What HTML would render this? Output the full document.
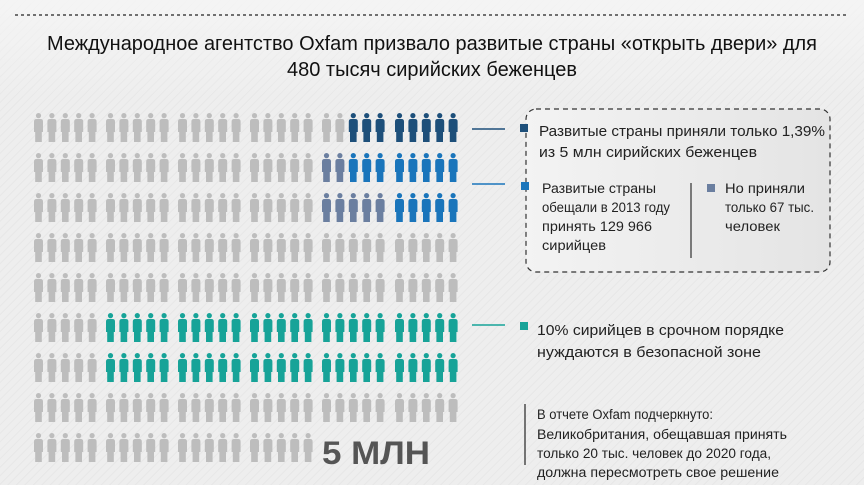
<!DOCTYPE html>
<html><head><meta charset="utf-8"><style>
html,body{margin:0;padding:0;width:864px;height:485px;overflow:hidden;background:#eeeeee}
svg{display:block}
text{font-family:"Liberation Sans",sans-serif}
</style></head><body>
<svg width="864" height="485" viewBox="0 0 864 485" xmlns="http://www.w3.org/2000/svg">
<defs>
<pattern id="st" width="6" height="6" patternUnits="userSpaceOnUse" patternTransform="rotate(45)">
<rect width="6" height="6" fill="#eeeeee"/><rect width="1" height="6" fill="#e7e7e7"/></pattern>
<linearGradient id="bx" x1="0" y1="0" x2="1" y2="0"><stop offset="0" stop-color="#f3f3f3"/><stop offset="1" stop-color="#e4e4e4"/></linearGradient>
<linearGradient id="tp" x1="0" y1="0" x2="0" y2="1"><stop offset="0" stop-color="#f6f6f6" stop-opacity="0.8"/><stop offset="1" stop-color="#f6f6f6" stop-opacity="0"/></linearGradient>
<g id="p"><circle cx="4.5" cy="2.6" r="2.6"/><path d="M0 8.5 Q0 6 2.5 6 H6.5 Q9 6 9 8.5 V19 H7.8 V29 H1.2 V19 H0 Z"/></g>
</defs>
<rect width="864" height="485" fill="url(#st)"/>
<rect x="0" y="0" width="864" height="100" fill="url(#tp)"/>
<line x1="15" y1="15" x2="846" y2="15" stroke="#444" stroke-width="1.5" stroke-dasharray="3,3"/>
<text x="432" y="50" text-anchor="middle" font-size="20" fill="#111" textLength="770" lengthAdjust="spacingAndGlyphs">Международное агентство Oxfam призвало развитые страны «открыть двери» для</text>
<text x="432" y="76" text-anchor="middle" font-size="20" fill="#111" textLength="290" lengthAdjust="spacingAndGlyphs">480 тысяч сирийских беженцев</text>
<g id="grid"></g>
<rect x="526" y="109" width="304" height="163" rx="10" fill="url(#bx)" stroke="#333" stroke-width="1.2" stroke-dasharray="5,4"/>
<line x1="472" y1="129" x2="505" y2="129" stroke="#1d4f7a" stroke-width="1.5"/>
<rect x="520" y="124" width="8" height="8" fill="#1d4f7a"/>
<text x="539" y="136" font-size="15" fill="#222" textLength="286" lengthAdjust="spacingAndGlyphs">Развитые страны приняли только 1,39%</text>
<text x="539" y="157" font-size="15" fill="#222" textLength="218" lengthAdjust="spacingAndGlyphs">из 5 млн сирийских беженцев</text>
<line x1="472" y1="184" x2="505" y2="184" stroke="#1a75bb" stroke-width="1.5"/>
<rect x="521" y="182" width="8" height="8" fill="#1a75bb"/>
<text x="542" y="193" font-size="13.5" fill="#222" textLength="114" lengthAdjust="spacingAndGlyphs">Развитые страны</text>
<text x="542" y="212" font-size="13.5" fill="#222" textLength="128" lengthAdjust="spacingAndGlyphs">обещали в 2013 году</text>
<text x="542" y="231" font-size="13.5" fill="#222" textLength="110" lengthAdjust="spacingAndGlyphs">принять 129  966</text>
<text x="542" y="250" font-size="13.5" fill="#222" textLength="64" lengthAdjust="spacingAndGlyphs">сирийцев</text>
<line x1="691" y1="183" x2="691" y2="258" stroke="#555" stroke-width="1.5"/>
<rect x="707" y="184" width="8" height="8" fill="#6b7fa0"/>
<text x="725" y="193" font-size="13.5" fill="#222" textLength="80" lengthAdjust="spacingAndGlyphs">Но приняли</text>
<text x="725" y="212" font-size="13.5" fill="#222" textLength="89" lengthAdjust="spacingAndGlyphs">только 67 тыс.</text>
<text x="725" y="231" font-size="13.5" fill="#222" textLength="55" lengthAdjust="spacingAndGlyphs">человек</text>
<line x1="472" y1="325" x2="505" y2="325" stroke="#17a398" stroke-width="1.5"/>
<rect x="520" y="322" width="8" height="8" fill="#17a398"/>
<text x="537" y="335" font-size="15" fill="#222" textLength="247" lengthAdjust="spacingAndGlyphs">10% сирийцев в срочном порядке</text>
<text x="537" y="357" font-size="15" fill="#222" textLength="224" lengthAdjust="spacingAndGlyphs">нуждаются в безопасной зоне</text>
<line x1="525" y1="404" x2="525" y2="465" stroke="#333" stroke-width="1.3"/>
<text x="537" y="419" font-size="13.5" fill="#222" textLength="176" lengthAdjust="spacingAndGlyphs">В отчете Oxfam подчеркнуто:</text>
<text x="537" y="439" font-size="13.5" fill="#222" textLength="250" lengthAdjust="spacingAndGlyphs">Великобритания, обещавшая принять</text>
<text x="537" y="458" font-size="13.5" fill="#222" textLength="234" lengthAdjust="spacingAndGlyphs">только 20 тыс. человек до 2020 года,</text>
<text x="537" y="477" font-size="13.5" fill="#222" textLength="242" lengthAdjust="spacingAndGlyphs">должна пересмотреть свое решение</text>
<text x="322" y="464" font-size="32" font-weight="bold" fill="#555" textLength="108" lengthAdjust="spacingAndGlyphs">5 МЛН</text>
</svg>
<script>
(function(){
var g=document.getElementById('grid');var ns='http://www.w3.org/2000/svg';
var G='#bdbdbd',N='#1d4f7a',S='#6b7fa0',B='#1a75bb',T='#17a398';
var gx=[34,106,178,250,322,395];
function col(r,gi,i){
 if(r==0){if(gi==4)return i<2?G:N;if(gi==5)return N;}
 if(r==1){if(gi==4)return i<2?S:B;if(gi==5)return B;}
 if(r==2){if(gi==4)return S;if(gi==5)return B;}
 if((r==5||r==6)&&gi>0)return T;
 return G;}
for(var r=0;r<9;r++){for(var gi=0;gi<6;gi++){if(r==8&&gi>3)continue;for(var i=0;i<5;i++){
 var u=document.createElementNS(ns,'use');u.setAttribute('href','#p');
 u.setAttribute('x',gx[gi]+i*13.4);u.setAttribute('y',113+r*40);u.setAttribute('fill',col(r,gi,i));g.appendChild(u);}}}
})();
</script>
</body></html>
